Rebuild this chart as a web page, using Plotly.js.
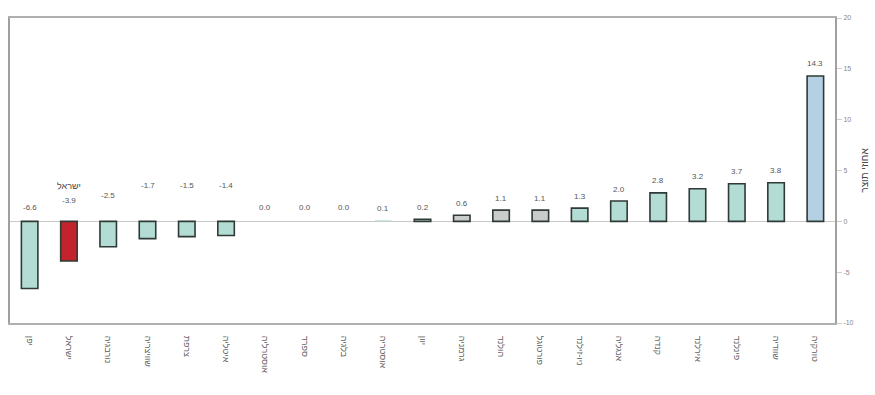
<!DOCTYPE html>
<html>
<head>
<meta charset="utf-8">
<script src="https://cdn.plot.ly/plotly-3.0.1.min.js"></script>
<style>
  html, body { margin: 0; padding: 0; background: #fff; }
  #chart { width: 875px; height: 395px; }
</style>
</head>
<body>
<div id="chart"></div>
<script>
// Countries, ordered from largest decline to largest rise
const countries = [
  "יפן", "ישראל", "נורבגיה", "שוויצריה", "צרפת", "איטליה", "אוסטרליה",
  "ספרד", "בלגיה", "אוסטריה", "יוון", "גרמניה", "הולנד", "פורטוגל",
  "ניו-זילנד", "אנגליה", "קנדה", "אירלנד", "פינלנד", "שוודיה", "טורקיה"
];
// Change, percent of GDP
const values = [
  -6.6, -3.9, -2.5, -1.7, -1.5, -1.4, 0.0,
  0.0, 0.0, 0.1, 0.2, 0.6, 1.1, 1.1,
  1.3, 2.0, 2.8, 3.2, 3.7, 3.8, 14.3
];
const highlight = "ישראל";
const yTicks = [-10, -5, 0, 5, 10, 15, 20];

const teal = "#b3dcd4", grey = "#c9cccb", blue = "#b4d0e2", red = "#c3242c";
const fills = values.map((v, i) => {
  if (countries[i] === highlight) return red;
  if (v >= 10) return blue;
  if (v > 0.3 && v < 1.2) return grey;
  return teal;
});
const lineWidths = values.map(v => (v === 0 || v === 0.1 ? 0 : 1.6));

const trace = {
  type: "bar",
  x: countries,
  y: values,
  width: 0.42,
  marker: {
    color: fills,
    line: { color: "#2f3a36", width: lineWidths }
  },
  hoverinfo: "x+y"
};

// Value labels: above the bar for rises, above the zero line for declines
const lift = values.map((v, i) => {
  if (v > 0) return 12;
  if (i >= 2 && i <= 5) return i === 2 ? 26 : 36;
  if (countries[i] === highlight) return 21;
  return 14;
});
const annotations = values.map((v, i) => ({
  x: countries[i],
  y: Math.max(v, 0),
  text: v.toFixed(1),
  showarrow: false,
  yanchor: "middle",
  yshift: lift[i],
  font: { family: "Liberation Sans, Arial", size: 8, color: "#555" }
}));
annotations.push({
  x: highlight,
  y: 0,
  text: highlight,
  showarrow: false,
  yanchor: "middle",
  yshift: 35,
  font: { family: "Liberation Sans, Arial", size: 9, color: "#444" }
});

const layout = {
  width: 875,
  height: 395,
  margin: { l: 10, r: 40, t: 18, b: 72 },
  paper_bgcolor: "#fff",
  plot_bgcolor: "#fff",
  showlegend: false,
  bargap: 0.58,
  xaxis: {
    type: "category",
    tickangle: 90,
    tickfont: { family: "Liberation Sans, Arial", size: 9, color: "#666" },
    showgrid: false,
    showline: true,
    linecolor: "#b0b0b0",
    linewidth: 2,
    mirror: true,
    ticks: "outside",
    ticklen: 9,
    tickcolor: "rgba(0,0,0,0)"
  },
  yaxis: {
    side: "right",
    range: [-10, 20],
    tickvals: yTicks,
    ticktext: yTicks.map(String),
    tickfont: { family: "Liberation Sans, Arial", size: 7, color: "#888" },
    showgrid: false,
    showline: true,
    linecolor: "#a0a0a0",
    linewidth: 2,
    mirror: true,
    ticks: "outside",
    ticklen: 5,
    tickcolor: "#ccc",
    zeroline: true,
    zerolinecolor: "#c8c8c8",
    zerolinewidth: 1,
    title: {
      text: "אחוזי תוצר",
      font: { family: "Liberation Sans, Arial", size: 10, color: "#444" },
      standoff: 8
    }
  },
  annotations: annotations
};

Plotly.newPlot("chart", [trace], layout, { displayModeBar: false, staticPlot: true });
</script>
</body>
</html>
